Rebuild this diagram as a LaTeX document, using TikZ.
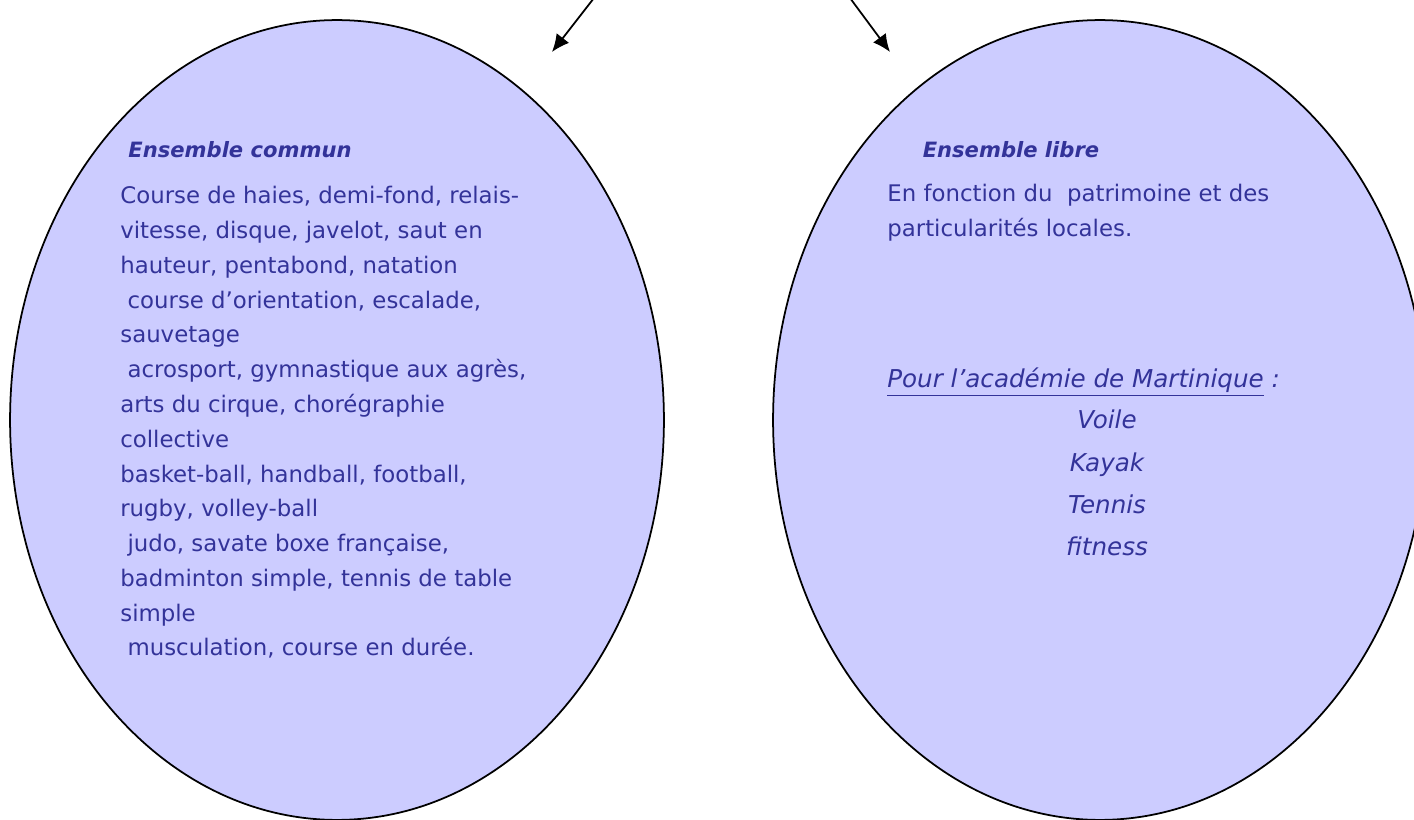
\documentclass[tikz,border=0pt]{standalone}
\usepackage{fontspec}
\setmainfont{DejaVu Sans}
\usepackage{tikz}
\usetikzlibrary{arrows.meta,positioning,shapes.geometric}

\definecolor{ovalfill}{HTML}{CCCCFF}
\definecolor{ovaltext}{HTML}{333399}

\begin{document}
\begin{tikzpicture}[x=0.02cm,y=-0.02cm,>={Latex[length=10pt,width=9pt]}]
\tikzstyle{oval} = [draw, ellipse, fill=ovalfill, line width=1pt, inner sep=0pt, minimum width=13.08cm, minimum height=16cm]
\tikzstyle{title} = [text=ovaltext, font=\fontsize{12}{15}\selectfont\bfseries\itshape, inner sep=0pt]
\tikzstyle{body} = [text=ovaltext, font=\fontsize{13}{19.8}\selectfont, align=left, inner sep=0pt]
\tikzstyle{local} = [text=ovaltext, font=\fontsize{14}{24}\selectfont\itshape, align=center, inner sep=0pt]

\useasboundingbox (0,0) rectangle (1414,820);
\clip (0,0) rectangle (1414,820);

\node [oval] (commun) at (337,420) {};
\node [oval] (libre) at (1100,420) {};

\coordinate (srcL) at (594,-2);
\coordinate (tipL) at (552,52);
\coordinate (srcR) at (850,-2);
\coordinate (tipR) at (890,52);

\node [title] (titreC) at (240,150) {Ensemble commun};
\node [title] (titreL) at (1011,150) {Ensemble libre};

\node [body, anchor=north west] (listeC) at (120,186) {Course de haies, demi-fond, relais-\\
vitesse, disque, javelot, saut en\\
hauteur, pentabond, natation\\
\ course d'orientation, escalade,\\
sauvetage\\
\ acrosport, gymnastique aux agrès,\\
arts du cirque, chorégraphie\\
collective\\
basket-ball, handball, football,\\
rugby, volley-ball\\
\ judo, savate boxe française,\\
badminton simple, tennis de table\\
simple\\
\ musculation, course en durée.};

\node [body, anchor=north west] (texteL) at (887,184) {En fonction du \ patrimoine et des\\
particularités locales.};

\node [local, anchor=base west] (pour) at (887,388) {\underline{Pour l'académie de Martinique} :};
\node [local] (sports) at (1107,483) {Voile\\Kayak\\Tennis\\fitness};

\draw [->, line width=1pt] (srcL) -- (tipL);
\draw [->, line width=1pt] (srcR) -- (tipR);
\end{tikzpicture}
\end{document}
